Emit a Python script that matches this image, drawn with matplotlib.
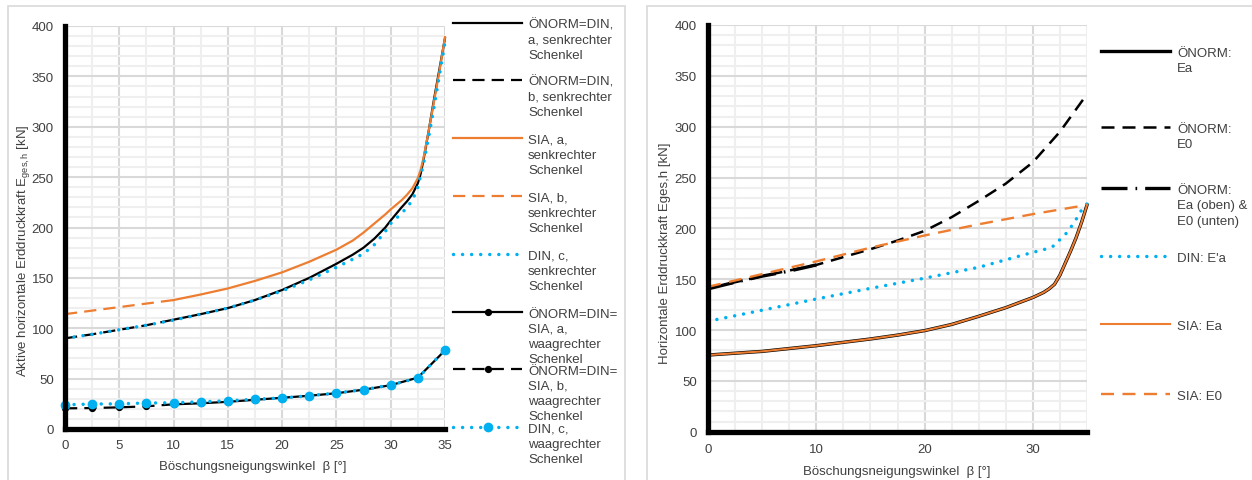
import matplotlib
matplotlib.use("Agg")
import matplotlib.pyplot as plt
from matplotlib.lines import Line2D
from matplotlib.patches import Rectangle
from matplotlib.ticker import MultipleLocator

plt.rcParams['font.family'] = ['Liberation Sans', 'DejaVu Sans']
plt.rcParams['mathtext.fontset'] = 'custom'
plt.rcParams['mathtext.rm'] = 'Liberation Sans'
plt.rcParams['mathtext.it'] = 'Liberation Sans:italic'

# ---------------- data: left chart (senkrechter / waagrechter Schenkel) ----------------
x_sk_a = [10, 12.5, 15, 17.5, 20, 22.5, 25, 26.5, 27.5, 28.5, 29.5, 30, 31, 31.5, 32, 32.5,
          32.75, 33, 33.5, 34, 34.5, 35]
oenorm_din_a_sk = [108.5, 114, 120, 128, 138, 150, 164, 173, 180, 189, 200, 207, 220, 226, 233, 244,
                   253, 266, 296, 328, 358, 388]
sia_a_sk = [128, 133.5, 139.5, 147, 155.5, 166, 178, 187, 195, 204, 213, 218, 227, 232.5, 239, 249,
            257, 268, 296, 326, 356, 389]

x_sk_b = [0, 2.5, 5, 7.5, 10]
oenorm_din_b_sk = [90, 94, 98.5, 103, 108.5]
sia_b_sk = [114, 117.5, 121, 124.5, 128]

x_sk_c = [0, 2.5, 5, 7.5, 10, 12.5, 15, 17.5, 20, 22.5, 25, 26.5, 27.5, 28.5, 29.5, 30, 31, 31.5,
          32, 32.5, 33, 33.5, 34, 34.5, 35]
din_c_sk = [90, 94, 98.5, 103, 108, 114, 120, 128, 137, 148, 160.5, 168.5, 174, 183, 196, 204, 214,
            220, 227, 240, 262, 290, 320, 352, 384]

x_wg_a = [10, 12.5, 15, 17.5, 20, 22.5, 25, 27.5, 30, 32.5, 35]
all_a_wg = [24.5, 25.5, 27, 29, 31, 33, 35.5, 39, 43.5, 51, 78]
x_wg_b = [0, 2.5, 5, 7.5, 10]
all_b_wg = [20.5, 20.8, 21.5, 22.5, 24.5]
x_wg_c = [0, 2.5, 5, 7.5, 10, 12.5, 15, 17.5, 20, 22.5, 25, 27.5, 30, 32.5, 35]
din_c_wg = [24, 24.8, 25, 25.8, 26, 27, 28, 29.5, 30.8, 33, 35.7, 39, 43.7, 50.6, 78.4]

labels_left = [
    "ÖNORM=DIN,\na, senkrechter\nSchenkel",
    "ÖNORM=DIN,\nb, senkrechter\nSchenkel",
    "SIA, a,\nsenkrechter\nSchenkel",
    "SIA, b,\nsenkrechter\nSchenkel",
    "DIN, c,\nsenkrechter\nSchenkel",
    "ÖNORM=DIN=\nSIA, a,\nwaagrechter\nSchenkel",
    "ÖNORM=DIN=\nSIA, b,\nwaagrechter\nSchenkel",
    "DIN, c,\nwaagrechter\nSchenkel",
]

# ---------------- data: right chart ----------------
x_ea = [0, 5, 10, 15, 17.5, 20, 22.5, 25, 27.5, 29, 30, 31, 31.5, 32, 32.5, 33, 33.5, 34, 34.5, 35]
oenorm_ea = [75.4, 79, 84.6, 91.2, 95, 99.4, 105.5, 113.5, 122, 128, 132, 137, 140.5, 145, 154,
             166, 178, 191, 206, 223]
sia_ea = [75.4, 79, 84.6, 91.2, 95, 99.4, 105.5, 113.5, 122, 128, 132, 137, 140.5, 145, 154,
          166, 178, 191, 206, 223]

x_e0 = [0, 5, 10, 15, 17.5, 20, 22.5, 25, 27.5, 30, 32.5, 35]
oenorm_e0 = [141, 153, 164, 179.5, 188, 197.5, 211, 227, 244, 265, 295, 332]

x_mix = [0, 2.5, 5, 7.5, 10]
oenorm_mix = [140.5, 147, 153, 158, 164]

x_din = [0, 5, 10, 15, 20, 25, 30, 31, 32, 32.5, 33, 33.5, 34, 34.5, 35]
din_ea = [108.6, 119.5, 130.5, 141, 151, 161.7, 176.4, 179, 183, 189, 194, 201, 209, 218, 224]

x_sia_e0 = [0, 5, 10, 15, 20, 25, 30, 35]
sia_e0 = [142.5, 155, 167.5, 181, 193, 204, 214, 223]

labels_right = [
    "ÖNORM:\nEa",
    "ÖNORM:\nE0",
    "ÖNORM:\nEa (oben) &\nE0 (unten)",
    "DIN: E'a",
    "SIA: Ea",
    "SIA: E0",
]

# ---------------- styles ----------------
BLACK = 'black'
ORANGE = '#ED7D31'
BLUE = '#00B0F0'
TXT = '#404040'
DASH = (0, (5.5, 3.2))
DOT = (0, (0.01, 2.6))

W, H = 1252, 481
fig = plt.figure(figsize=(W / 100, H / 100), dpi=100)


def fx(px):
    return px / W


def fy(py):
    return 1 - py / H


# panel borders
fig.add_artist(Rectangle((fx(8), fy(520)), fx(625 - 8), (520 - 7) / H, fill=False,
                         ec='#d9d9d9', lw=1.2, transform=fig.transFigure))
fig.add_artist(Rectangle((fx(647), fy(520)), fx(700), (520 - 7) / H, fill=False,
                         ec='#d9d9d9', lw=1.2, transform=fig.transFigure))


def style_axes(ax, xmajor, xpad):
    ax.set_xlim(0, 35)
    ax.set_ylim(0, 400)
    ax.xaxis.set_major_locator(MultipleLocator(xmajor))
    ax.xaxis.set_minor_locator(MultipleLocator(2.5))
    ax.yaxis.set_major_locator(MultipleLocator(50))
    ax.yaxis.set_minor_locator(MultipleLocator(10))
    ax.grid(which='major', color='#d9d9d9', lw=1.5)
    ax.grid(which='minor', color='#efefef', lw=1.5)
    ax.set_axisbelow(True)
    for s in ['top', 'right']:
        ax.spines[s].set_visible(False)
    for s in ['left', 'bottom']:
        ax.spines[s].set_linewidth(3.8)
        ax.spines[s].set_color('black')
        ax.spines[s].set_zorder(5)
    ax.tick_params(which='both', length=0, labelsize=9.5, labelcolor=TXT)
    ax.tick_params(axis='y', pad=8)
    ax.tick_params(axis='x', pad=xpad)


# ---------------- left chart ----------------
axL = fig.add_axes([fx(65), fy(430), fx(445 - 65), (430 - 27) / H])
style_axes(axL, 5, 7.5)

sty_left = [
    dict(color=BLACK, lw=1.6, ls='-'),
    dict(color=BLACK, lw=1.6, ls=DASH),
    dict(color=ORANGE, lw=1.6, ls='-'),
    dict(color=ORANGE, lw=1.6, ls=DASH),
    dict(color=BLUE, lw=2.5, ls=DOT, dash_capstyle='round'),
    dict(color=BLACK, lw=1.6, ls='-', marker='o', ms=4.2, mfc=BLACK, mec=BLACK),
    dict(color=BLACK, lw=1.6, ls=DASH, marker='o', ms=4.2, mfc=BLACK, mec=BLACK),
    dict(color=BLUE, lw=2.5, ls=DOT, dash_capstyle='round', marker='o', ms=6, mfc=BLUE, mec=BLUE),
]
series_left = [
    (x_sk_a, oenorm_din_a_sk), (x_sk_b, oenorm_din_b_sk),
    (x_sk_a, sia_a_sk), (x_sk_b, sia_b_sk),
    (x_sk_c, din_c_sk),
    (x_wg_a, all_a_wg), (x_wg_b, all_b_wg), (x_wg_c, din_c_wg),
]
for (xs, ys), st in zip(series_left, sty_left):
    axL.plot(xs, ys, clip_on=False, zorder=3, solid_joinstyle='round', **st)

fig.text(fx(24), fy(251), "Aktive horizontale Erddruckkraft E$_{\\mathrm{ges,h}}$ [kN]",
         rotation=90, ha='center', va='center', fontsize=9.5, color=TXT)
fig.text(fx(253), fy(470.5), "Böschungsneigungswinkel  β [°]", ha='center', va='baseline',
         fontsize=9.5, color=TXT)

# ---------------- right chart ----------------
axR = fig.add_axes([fx(708), fy(432.7), fx(1087 - 708), (432.7 - 26) / H])
style_axes(axR, 10, 8.3)

sty_right = [
    dict(color=BLACK, lw=2.4, ls='-'),
    dict(color=BLACK, lw=1.8, ls=(0, (5.2, 3.2))),
    dict(color=BLACK, lw=2.4, ls=(0, (7.8, 2.4, 0.5, 2.4))),
    dict(color=BLUE, lw=2.5, ls=DOT, dash_capstyle='round'),
    dict(color=ORANGE, lw=1.5, ls='-'),
    dict(color=ORANGE, lw=1.7, ls=(0, (5.5, 3.6))),
]
series_right = [
    (x_ea, oenorm_ea), (x_e0, oenorm_e0), (x_mix, oenorm_mix),
    (x_din, din_ea), (x_ea, sia_ea), (x_sia_e0, sia_e0),
]
for (xs, ys), st in zip(series_right, sty_right):
    axR.plot(xs, ys, clip_on=False, zorder=3, solid_joinstyle='round', **st)

fig.text(fx(665), fy(253), "Horizontale Erddruckkraft Eges,h [kN]",
         rotation=90, ha='center', va='center', fontsize=9.5, color=TXT)
fig.text(fx(897), fy(475), "Böschungsneigungswinkel  β [°]", ha='center', va='baseline',
         fontsize=9.5, color=TXT)


# ---------------- legends (drawn manually, Excel-like layout) ----------------
def legend_entry(x0, x1, xt, y, label, style, lsp):
    st = dict(style)
    marker = st.pop('marker', None)
    ms = st.pop('ms', None)
    mfc = st.pop('mfc', None)
    mec = st.pop('mec', None)
    fig.add_artist(Line2D([fx(x0), fx(x1)], [fy(y), fy(y)], transform=fig.transFigure, **st))
    if marker:
        fig.add_artist(Line2D([fx((x0 + x1) / 2)], [fy(y)], transform=fig.transFigure,
                              ls='none', marker=marker, ms=ms, mfc=mfc, mec=mec))
    for i, line in enumerate(label.split('\n')):
        fig.text(fx(xt), fy(y + i * lsp + 4.6), line, ha='left', va='baseline',
                 fontsize=9.5, color=TXT)


yl = [24, 81, 139, 197, 255, 313, 370, 428]
for y, lab, st in zip(yl, labels_left, sty_left):
    legend_entry(453, 522, 528, y, lab, st, 15.1)

yr = [52, 128, 189, 257, 325, 395]
for y, lab, st in zip(yr, labels_right, sty_right):
    legend_entry(1101, 1170, 1177, y, lab, st, 15.5)

fig.savefig("out.png", dpi=100)
